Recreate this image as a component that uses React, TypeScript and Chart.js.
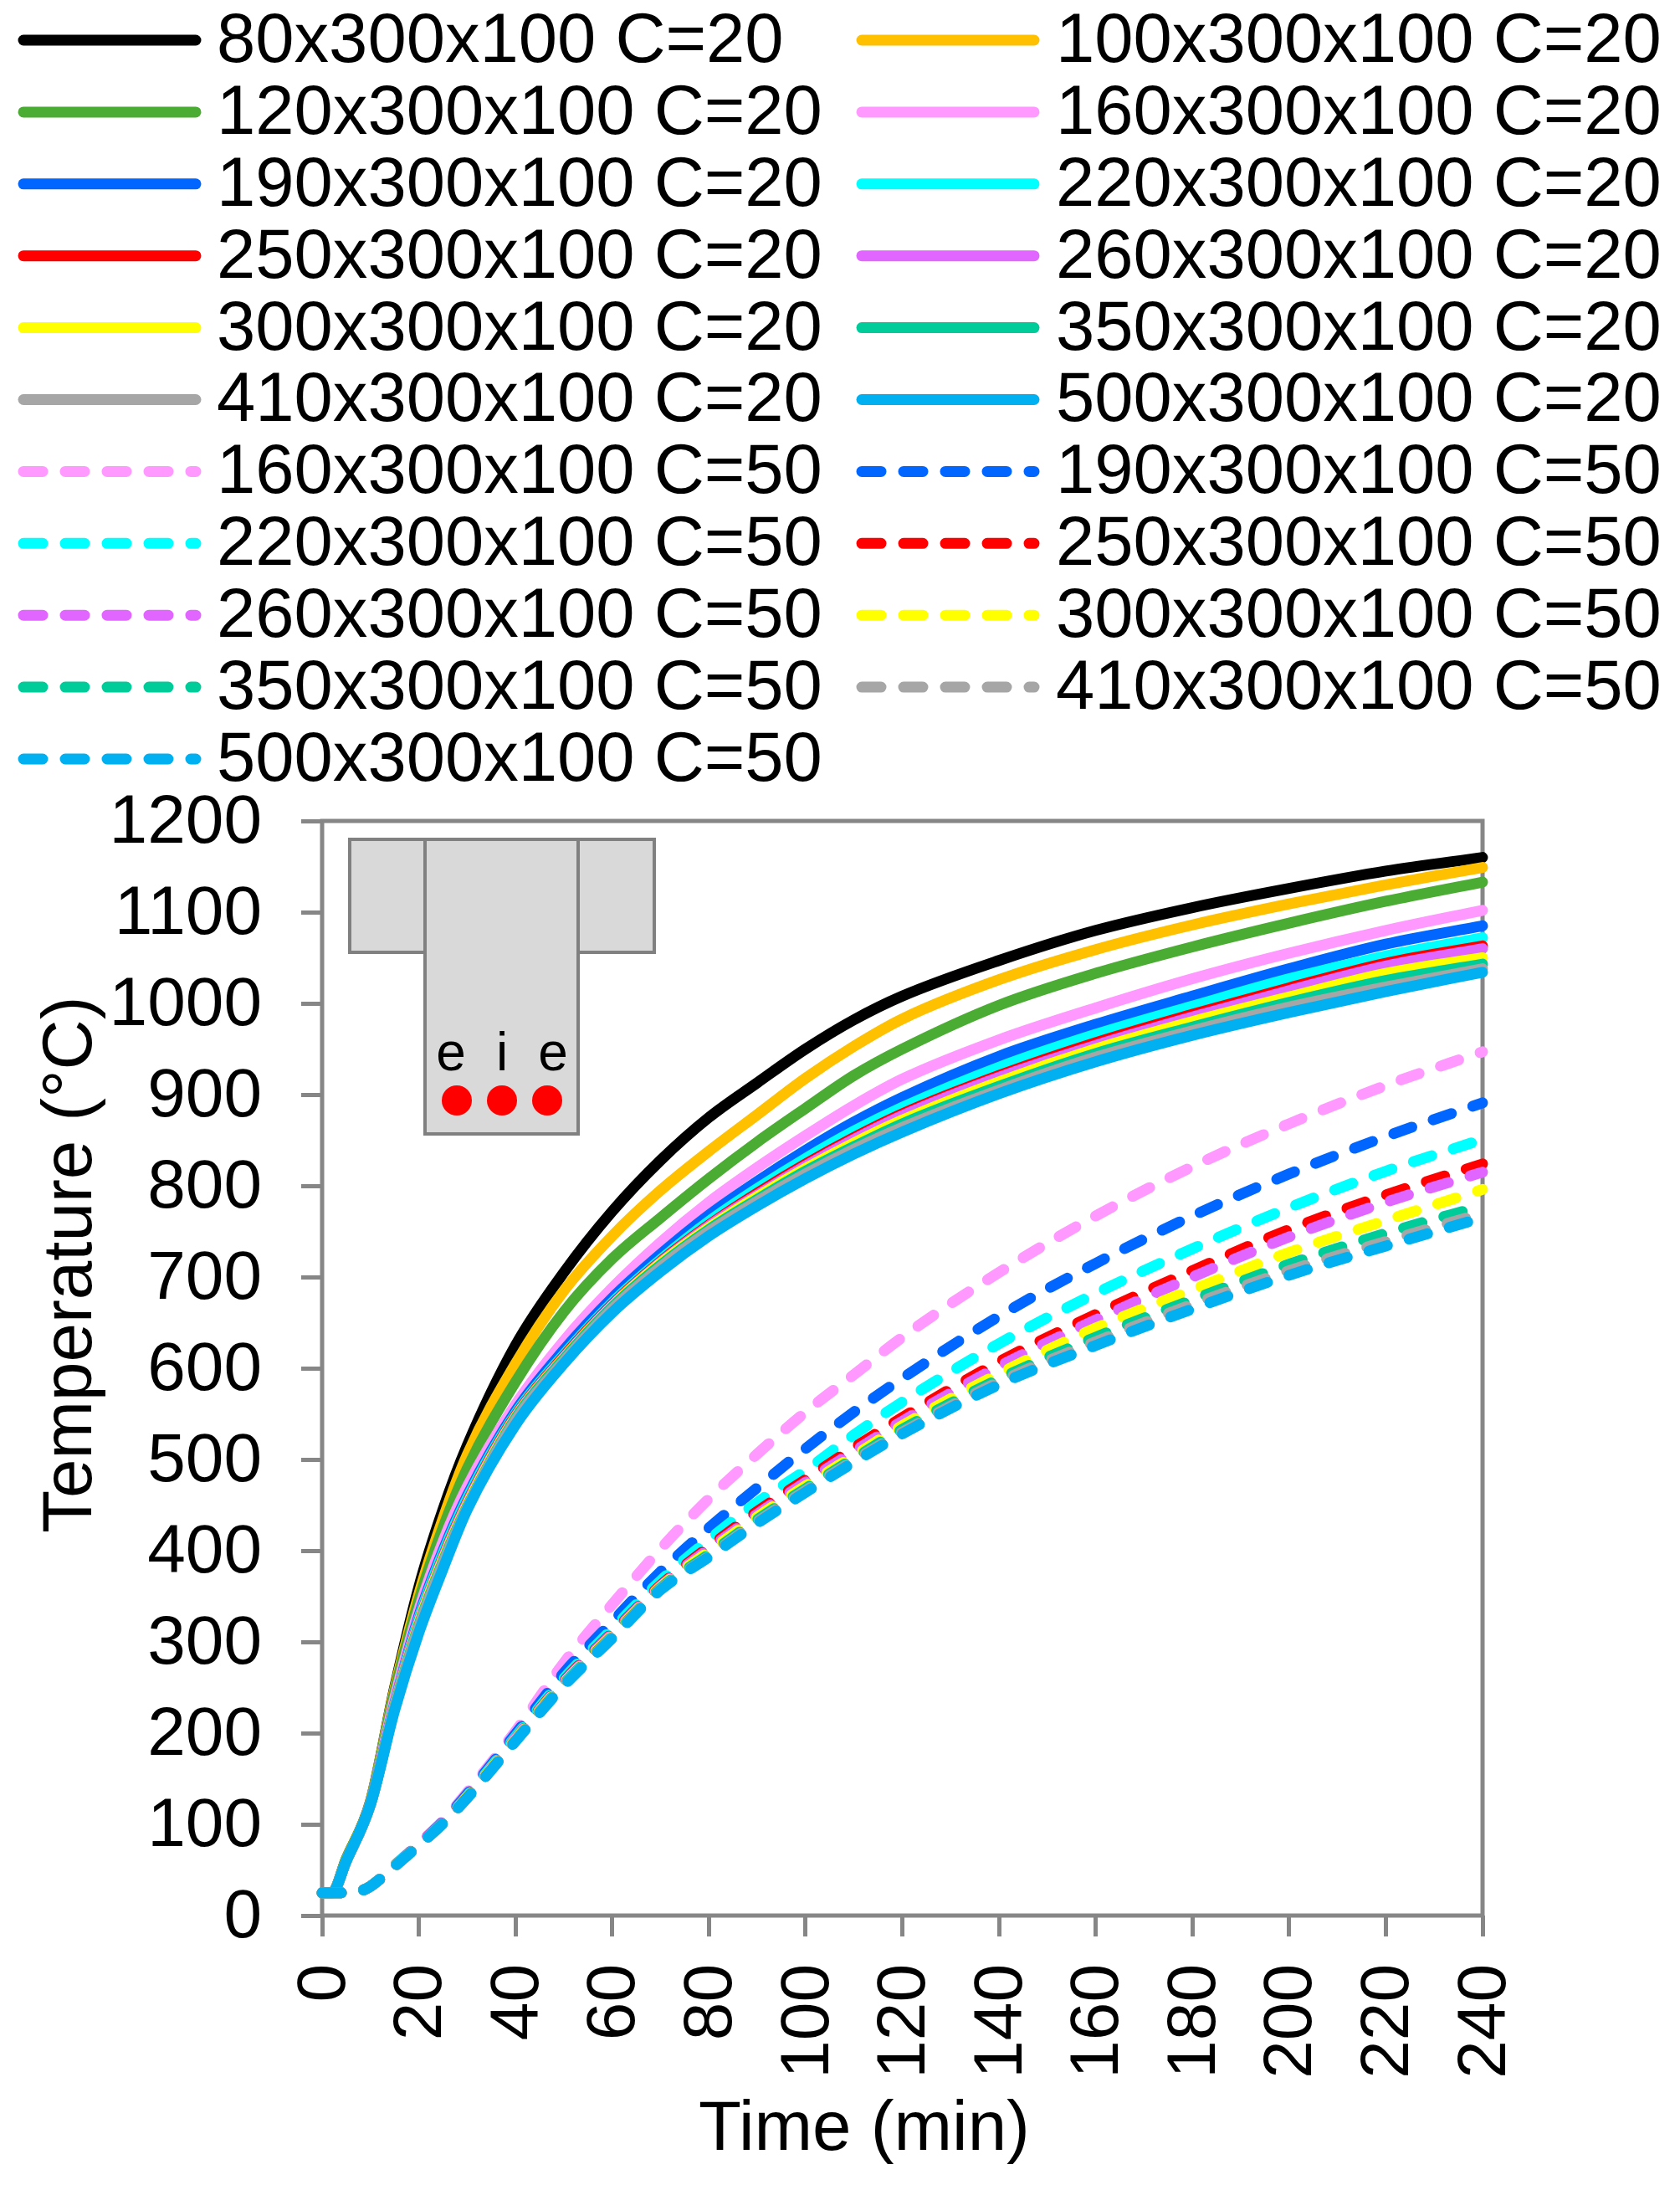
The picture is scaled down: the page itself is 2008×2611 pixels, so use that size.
import React, { useEffect, useRef } from "react";
import { Chart, registerables } from "chart.js";

Chart.register(...registerables);

const FONT = '"Liberation Sans", Arial, sans-serif';
const FRAME = "#868686";

const tSolid = [0, 2, 5, 10, 15, 20, 25, 30, 40, 50, 60, 70, 80, 90, 100, 110, 120, 140, 160, 180, 200, 220, 240];
const tDash = [0, 5, 8, 10, 15, 20, 25, 30, 40, 50, 60, 70, 80, 90, 100, 110, 120, 140, 160, 180, 200, 220, 240];
const xTicks = [0, 20, 40, 60, 80, 100, 120, 140, 160, 180, 200, 220, 240];

const s80 = [25, 25, 62, 125, 250, 360, 445, 515, 625, 705, 772, 828, 875, 913, 950, 982, 1008, 1047, 1080, 1105, 1126, 1145, 1160];
const s100 = [25, 25, 62, 125, 248, 352, 435, 505, 605, 685, 745, 795, 838, 878, 918, 953, 983, 1026, 1059, 1086, 1109, 1130, 1149];
const s120 = [25, 25, 62, 124, 245, 345, 425, 490, 585, 662, 720, 765, 808, 848, 885, 921, 950, 998, 1033, 1062, 1088, 1112, 1133];
const s160 = [25, 25, 60, 123, 238, 335, 410, 470, 560, 630, 688, 738, 782, 820, 855, 888, 917, 960, 995, 1027, 1055, 1080, 1102];
const s190 = [25, 25, 60, 123, 232, 328, 400, 460, 553, 620, 677, 725, 768, 805, 839, 870, 897, 942, 977, 1008, 1038, 1065, 1085];
const s220 = [25, 25, 60, 122, 231, 325, 397, 457, 550, 615, 672, 719, 761, 797, 830, 860, 886, 930, 966, 997, 1027, 1052, 1072];
const s250 = [25, 25, 60, 122, 230, 322, 393, 453, 548, 613, 670, 717, 757, 792, 824, 853, 879, 921, 957, 988, 1017, 1044, 1063];
const s260 = [25, 25, 60, 122, 230, 322, 392, 452, 547, 612, 669, 716, 756, 790, 822, 851, 877, 919, 954, 985, 1014, 1041, 1060];
const s300 = [25, 25, 60, 122, 229, 320, 390, 450, 546, 611, 668, 715, 754, 788, 819, 847, 872, 914, 950, 980, 1007, 1033, 1050];
const s350 = [25, 25, 60, 122, 228, 318, 388, 448, 545, 610, 667, 713, 752, 785, 816, 843, 868, 909, 945, 974, 1001, 1025, 1043];
const s410 = [25, 25, 60, 122, 227, 316, 386, 447, 543, 608, 665, 711, 750, 783, 813, 840, 864, 905, 941, 970, 996, 1018, 1038];
const s500 = [25, 25, 60, 122, 225, 310, 380, 445, 538, 605, 661, 706, 745, 778, 808, 835, 859, 901, 936, 965, 990, 1013, 1034];

const d160 = [25, 25, 27, 32, 55, 79, 104, 135, 202, 277, 341, 402, 457, 506, 552, 593, 634, 705, 767, 821, 868, 910, 947];
const d190 = [25, 25, 27, 32, 55, 78, 103, 133, 199, 266, 322, 377, 425, 469, 512, 552, 589, 657, 715, 767, 813, 854, 891];
const d220 = [25, 25, 27, 32, 55, 78, 102, 131, 196, 260, 314, 367, 412, 453, 488, 527, 563, 627, 682, 731, 776, 816, 851];
const d250 = [25, 25, 27, 32, 54, 78, 102, 130, 194, 257, 310, 362, 404, 443, 478, 513, 546, 607, 659, 707, 752, 790, 824];
const d260 = [25, 25, 27, 32, 54, 78, 102, 130, 194, 256, 309, 361, 402, 440, 475, 509, 542, 602, 653, 700, 744, 782, 815];
const d300 = [25, 25, 27, 32, 54, 77, 101, 130, 193, 255, 307, 360, 399, 437, 471, 504, 537, 594, 644, 686, 727, 762, 796];
const d350 = [25, 25, 27, 32, 54, 77, 101, 129, 192, 254, 306, 359, 396, 434, 468, 501, 533, 588, 634, 675, 714, 748, 778];
const d410 = [25, 25, 27, 32, 54, 77, 101, 129, 192, 253, 305, 358, 394, 432, 466, 499, 530, 585, 629, 670, 707, 739, 770];
const d500 = [25, 25, 27, 32, 54, 77, 101, 129, 191, 252, 304, 357, 393, 430, 464, 497, 528, 582, 625, 665, 702, 734, 765];

const C = {
  black: "#000000", orange: "#FFC000", green: "#4BAC33", pink: "#FF99FF", blue: "#0066FF", cyan: "#00FFFF",
  red: "#FF0000", violet: "#E066FF", yellow: "#FFFF00", teal: "#00CC99", gray: "#A6A6A6", sky: "#00B0F0",
};

const solid: [string, number[], string][] = [
  ["80x300x100 C=20", s80, C.black], ["100x300x100 C=20", s100, C.orange], ["120x300x100 C=20", s120, C.green],
  ["160x300x100 C=20", s160, C.pink], ["190x300x100 C=20", s190, C.blue], ["220x300x100 C=20", s220, C.cyan],
  ["250x300x100 C=20", s250, C.red], ["260x300x100 C=20", s260, C.violet], ["300x300x100 C=20", s300, C.yellow],
  ["350x300x100 C=20", s350, C.teal], ["410x300x100 C=20", s410, C.gray], ["500x300x100 C=20", s500, C.sky],
];
const dashed: [string, number[], string][] = [
  ["160x300x100 C=50", d160, C.pink], ["190x300x100 C=50", d190, C.blue], ["220x300x100 C=50", d220, C.cyan],
  ["250x300x100 C=50", d250, C.red], ["260x300x100 C=50", d260, C.violet], ["300x300x100 C=50", d300, C.yellow],
  ["350x300x100 C=50", d350, C.teal], ["410x300x100 C=50", d410, C.gray], ["500x300x100 C=50", d500, C.sky],
];

const DASH = [23, 27];
const LW = 13;

const overlay = {
  id: "overlay",
  beforeDatasetsDraw(chart: any) {
    const { ctx, chartArea: a } = chart;
    ctx.save();
    ctx.strokeStyle = FRAME;
    ctx.lineWidth = 5;
    ctx.strokeRect(a.left, a.top, a.right - a.left, a.bottom - a.top);
    // T-section inset
    ctx.fillStyle = "#D9D9D9";
    ctx.strokeStyle = "#808080";
    ctx.lineWidth = 4;
    ctx.fillRect(418, 1003, 364, 135);
    ctx.strokeRect(418, 1003, 364, 135);
    ctx.fillRect(508, 1003, 183, 352);
    ctx.strokeRect(508, 1003, 183, 352);
    ctx.fillStyle = "#FF0000";
    for (const cx of [546, 600, 654]) {
      ctx.beginPath();
      ctx.arc(cx, 1315, 18, 0, Math.PI * 2);
      ctx.fill();
    }
    ctx.fillStyle = "#000";
    ctx.font = `64px ${FONT}`;
    ctx.textAlign = "center";
    ctx.textBaseline = "alphabetic";
    ctx.fillText("e", 539, 1279);
    ctx.fillText("i", 600, 1279);
    ctx.fillText("e", 661, 1279);
    ctx.restore();
  },
  afterDraw(chart: any) {
    const { ctx } = chart;
    ctx.save();
    ctx.fillStyle = "#000";
    ctx.font = `83.5px ${FONT}`;
    ctx.textAlign = "center";
    ctx.textBaseline = "middle";
    ctx.fillText("Time (min)", 1033, 2546);
    ctx.save();
    ctx.translate(86, 1511);
    ctx.rotate(-Math.PI / 2);
    ctx.fillText("Temperature (°C)", 0, 0);
    ctx.restore();
    // Legend: two columns, filled row by row
    const colLine = [22, 1024];
    const colText = [259, 1262];
    ctx.font = `83.2px ${FONT}`;
    chart.data.datasets.forEach((ds: any, i: number) => {
      const col = i % 2;
      const row = Math.floor(i / 2);
      const y = 48 + row * 85.9;
      ctx.beginPath();
      ctx.strokeStyle = ds.borderColor;
      ctx.lineWidth = LW;
      ctx.lineCap = "round";
      ctx.setLineDash(ds.borderDash || []);
      ctx.moveTo(colLine[col] + 6, y);
      ctx.lineTo(colLine[col] + 212, y);
      ctx.stroke();
      ctx.setLineDash([]);
      ctx.fillStyle = "#000";
      ctx.textAlign = "left";
      ctx.textBaseline = "middle";
      ctx.fillText(ds.label, colText[col], y + 3);
    });
    ctx.restore();
  },
};

export default function App() {
  const ref = useRef<HTMLCanvasElement>(null);
  useEffect(() => {
    const mk = (s: [string, number[], string], t: number[], dash: boolean, i: number) => ({
      label: s[0],
      data: s[1].map((y, k) => ({ x: t[k], y })),
      borderColor: s[2],
      backgroundColor: s[2],
      borderWidth: LW,
      borderCapStyle: "round" as const,
      borderJoinStyle: "round" as const,
      borderDash: dash ? DASH : [],
      pointRadius: 0,
      cubicInterpolationMode: "monotone" as const,
      clip: false as any,
      order: 100 - i,
    });
    const datasets = [
      ...solid.map((s, i) => mk(s, tSolid, false, i)),
      ...dashed.map((s, i) => mk(s, tDash, true, i + solid.length)),
    ];
    const chart = new Chart(ref.current!, {
      type: "line",
      data: { datasets },
      plugins: [overlay],
      options: {
        animation: false,
        responsive: false,
        devicePixelRatio: 1,
        layout: { padding: { left: 0, top: 981, right: 236, bottom: 0 } },
        plugins: { legend: { display: false }, tooltip: { enabled: false }, title: { display: false } },
        scales: {
          x: {
            type: "linear",
            min: 0,
            max: 240,
            afterBuildTicks: (ax: any) => { ax.ticks = xTicks.map((value) => ({ value })); },
            afterFit: (ax: any) => { ax.height = 322; },
            border: { display: false },
            grid: { display: true, drawOnChartArea: false, drawTicks: true, tickLength: 25, tickWidth: 5, tickColor: FRAME },
            ticks: { font: { family: FONT, size: 82 }, color: "#000", minRotation: 90, maxRotation: 90, padding: 33, labelOffset: 4, autoSkip: false, callback: (v: any) => String(v) },
          },
          y: {
            type: "linear",
            min: 0,
            max: 1200,
            afterFit: (ax: any) => { ax.width = 385; },
            border: { display: false },
            grid: { display: true, drawOnChartArea: false, drawTicks: true, tickLength: 25, tickWidth: 5, tickColor: FRAME },
            ticks: { stepSize: 100, font: { family: FONT, size: 82 }, color: "#000", padding: 47, labelOffset: 3, autoSkip: false, callback: (v: any) => String(v) },
          },
        },
      },
    });
    return () => chart.destroy();
  }, []);
  return (
    <div style={{ position: "absolute", left: 0, top: 0, width: 2008, height: 2611, background: "#fff" }}>
      <canvas ref={ref} width={2008} height={2611} style={{ display: "block", width: 2008, height: 2611 }} />
    </div>
  );
}
